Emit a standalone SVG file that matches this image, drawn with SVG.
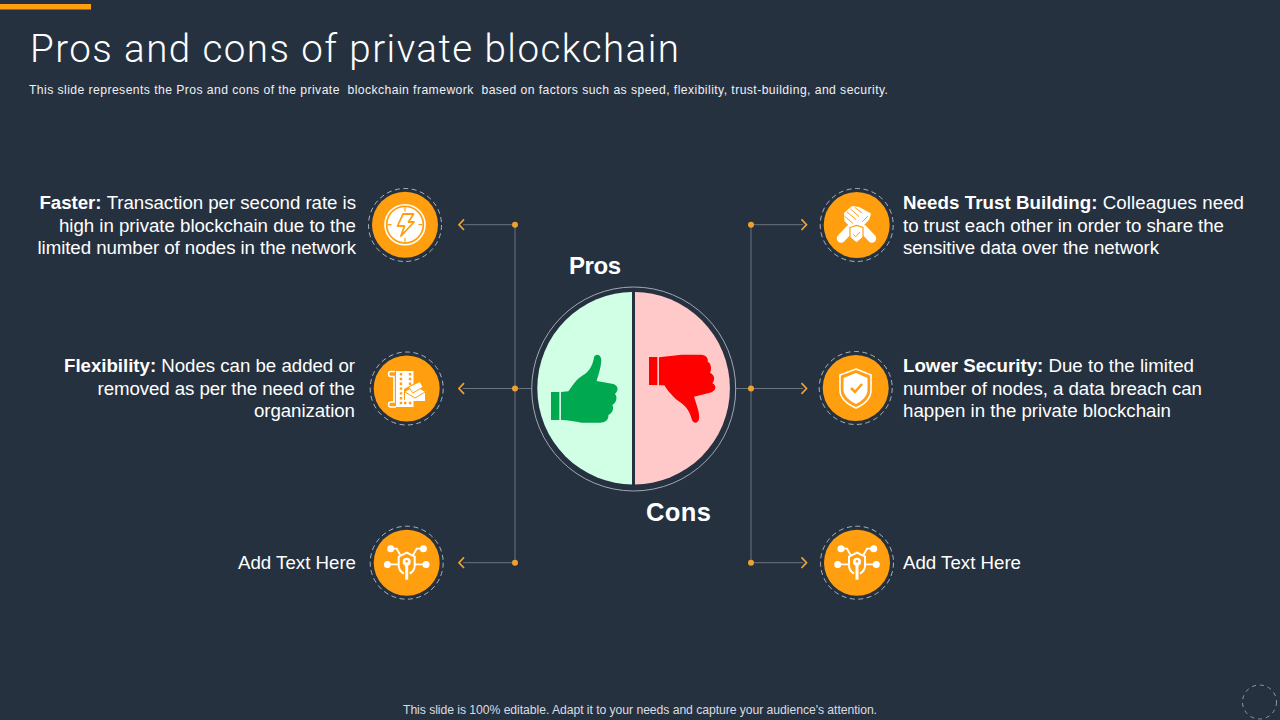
<svg xmlns="http://www.w3.org/2000/svg" width="1280" height="720" viewBox="0 0 1280 720">
<style>
text{font-family:"Liberation Sans",Arial,sans-serif;fill:#fff;white-space:pre}
.b{font-size:18.7px}
.s{font-weight:700}
.e{text-anchor:end}
.disc{fill:#ff9f10}
.dash{fill:none;stroke:#a9b4c2;stroke-width:1;stroke-dasharray:5 3.5}
.ln{fill:none;stroke:#737b85;stroke-width:.9}
.dot{fill:#f0a02e}
.chev{fill:none;stroke:#f0a02e;stroke-width:1.7}
.ic{fill:#fff}
.icl{fill:none;stroke:#fff;stroke-width:1.6}
.ico{fill:#ff9f10}
.oln{fill:none;stroke:#ff9f10;stroke-width:1}
</style>
<defs>
<clipPath id="lh"><rect x="500" y="280" width="132" height="220"/></clipPath>
<clipPath id="rh"><rect x="635" y="280" width="132" height="220"/></clipPath>
<g id="keyicon">
<circle class="ic" cx="-16" cy="-14" r="3.500"/><circle class="ic" cx="16.700" cy="-14" r="3.500"/><circle class="ic" cx="-19.300" cy="1.700" r="3.500"/><circle class="ic" cx="19.300" cy="1.700" r="3.500"/>
<path class="icl" style="stroke-width:1.800" d="M-16-14H-10L-6-7M16.700-14H10L6-7M-19.300 1.700H-8M19.300 1.700H8"/>
<path class="icl" style="stroke-width:2" d="M-3 11C-6 9-8 6-8 3V-6L0-10 8-6V3C8 6 6 9 3 11"/>
<circle class="ic" cx="0" cy="-1" r="4"/><rect class="ic" x="-1.500" y="0" width="3" height="17"/>
<circle class="ico" cx="0" cy="-1.500" r="1.200"/>
</g>
</defs>
<rect width="1280" height="720" fill="#263140"/>
<rect x="0" y="4" width="91" height="5.500" fill="#ff9f10"/>
<text x="30" y="62" font-size="38.500" style="font-family:Roboto,sans-serif;font-weight:300" textLength="649">Pros and cons of private blockchain</text>
<text x="29" y="93.500" font-size="12.200" style="fill:#eef0f2" textLength="859">This slide represents the Pros and cons of the private  blockchain framework  based on factors such as speed, flexibility, trust-building, and security.</text>

<g id="connectors">
<path class="ln" d="M515 225V563M751 225V563M463 224.700H515M463 388.500H532M463 562.700H515M736 388.500H803M751 224.700H803M751 562.700H803"/>
<circle class="dot" cx="515" cy="224.700" r="3"/><circle class="dot" cx="515" cy="388.500" r="3"/><circle class="dot" cx="515" cy="562.700" r="3"/>
<circle class="dot" cx="751" cy="224.700" r="3"/><circle class="dot" cx="751" cy="388.500" r="3"/><circle class="dot" cx="751" cy="562.700" r="3"/>
<path class="chev" d="M464 219.400 459 224.700 464 230M464 383.200 459 388.500 464 393.800M464 557.400 459 562.700 464 568M801.500 219.400 806.500 224.700 801.500 230M801.500 383.200 806.500 388.500 801.500 393.800M801.500 557.400 806.500 562.700 801.500 568"/>
</g>

<g id="center">
<circle cx="633.700" cy="389" r="102" fill="none" stroke="#a0a8b2" stroke-width="1"/>
<circle cx="633.600" cy="388.300" r="96.300" fill="#d0ffe6" clip-path="url(#lh)"/>
<circle cx="633.600" cy="388.300" r="96.300" fill="#ffc9c9" clip-path="url(#rh)"/>
<g transform="translate(525 280) scale(.33333)">
<rect x="78" y="336" width="25" height="84" fill="#00a94f"/>
<path fill="#00a94f" d="M108 336 130 334C145 315 150 300 175 285C195 275 205 250 207 232C210 220 228 222 229 240C228 265 218 290 215 303L265 312C280 318 282 330 270 342C278 350 275 368 262 375C268 385 262 400 250 405C252 420 240 428 225 428L170 428C150 425 130 420 108 420Z"/>
<rect x="372" y="231" width="25" height="84" fill="#ff0000"/>
<path fill="#ff0000" d="M402 232 470 224 530 224C548 226 550 240 548 245C560 250 560 270 555 278C570 285 570 300 562 310C578 318 572 335 555 338L507 350C515 375 525 400 522 418C518 432 505 430 501 420C497 405 490 385 470 370C450 358 430 335 418 316L402 316Z"/>
</g>
<text x="569" y="273.500" font-size="24" class="s" textLength="52">Pros</text>
<text x="646" y="521" font-size="25.500" class="s" textLength="65">Cons</text>
</g>

<g id="node-faster">
<circle class="disc" cx="405" cy="224.700" r="33"/><circle class="dash" cx="405" cy="225" r="36.500"/>
<circle class="icl" cx="405" cy="224.700" r="20"/><circle class="ic" cx="405" cy="224.700" r="17.500"/>
<path class="oln" style="stroke-width:1.200" d="M405 207.200V211.500M405 238V242.200M387.500 224.700H391.500M418.500 224.700H422.500"/>
<path class="oln" style="stroke-width:1.800;stroke-linejoin:round" d="M403 214H413.500L408.500 222H414L401 236 404.500 226H397.500Z"/>
<text class="b e" x="356" y="209" textLength="316.500"><tspan class="s">Faster: </tspan>Transaction per second rate is</text>
<text class="b e" x="356" y="232" textLength="297">high in private blockchain due to the</text>
<text class="b e" x="356" y="254" textLength="318.500">limited number of nodes in the network</text>
</g>

<g id="node-flexibility">
<circle class="disc" cx="406.700" cy="388.500" r="33"/><circle class="dash" cx="406.700" cy="388.500" r="36.500"/>
<path class="icl" d="M395 371.500H390.500C388 371.500 388 376.500 390.500 376.500H394V402H390.500C388 402 388 407 390.500 407H396"/>
<rect class="ic" x="396" y="371" width="17.500" height="36"/>
<path d="M401 373V405M410 373V385M404 403H413" fill="none" stroke="#ff9f10" stroke-width="2.400" stroke-dasharray="2.400 2.400"/>
<path d="M404 389 417 382 425 388V400H404Z" fill="#ff9f10"/>
<path class="ic" d="M405 392 415 386 425 392V401H405Z"/>
<path class="ic" d="M408.500 387 420 381.500 423 387 413 393Z"/>
<path class="oln" d="M405 392 415 398 425 392M408.500 387 420 381.500 423 387 413 393Z"/>
<text class="b e" x="355" y="372" textLength="291"><tspan class="s">Flexibility: </tspan>Nodes can be added or</text>
<text class="b e" x="355" y="395" textLength="257.500">removed as per the need of the</text>
<text class="b e" x="355" y="417" textLength="101">organization</text>
</g>

<g id="node-add-left">
<circle class="disc" cx="406.700" cy="562.700" r="33"/><circle class="dash" cx="406.700" cy="562.700" r="36.500"/>
<use href="#keyicon" x="406.700" y="562.700"/>
<text class="b e" x="356" y="569" textLength="118">Add Text Here</text>
</g>

<g id="node-trust">
<circle class="disc" cx="856.700" cy="225" r="33"/><circle class="dash" cx="856.700" cy="225" r="36.500"/>
<path d="M841 238.500 850 229M872 238.500 863 229" stroke="#fff" stroke-width="8.500" stroke-linecap="round" fill="none"/>
<path class="ic" d="M844 213 852 206 859 207 871 213.500 869 220 860 229 851 228 844.500 221Z"/>
<path class="oln" d="M844.500 216 853 223.500M847 212 856 219.500M850.500 209 859 216.500M855 207.500 862 213M862 222 868 216"/>
<path class="ic" stroke="#ff9f10" stroke-width="1.200" d="M850 227.500 856.500 225.500 863 227.500V237.500L856.500 243 850 237.500Z"/>
<path class="oln" d="M853.500 234.500 855.700 236.700 860 232"/>
<text class="b" x="903" y="209" textLength="341"><tspan class="s">Needs Trust Building: </tspan>Colleagues need</text>
<text class="b" x="903" y="232" textLength="321">to trust each other in order to share the</text>
<text class="b" x="903" y="254" textLength="256">sensitive data over the network</text>
</g>

<g id="node-security">
<circle class="disc" cx="855.700" cy="388" r="33"/><circle class="dash" cx="855.700" cy="388" r="36.500"/>
<path class="icl" d="M856 369 871 375V390C871 398 865 404 856 408C847 404 840 398 840 390V375Z"/>
<path class="ic" d="M856 373 867.500 378V390C867.500 396 862 401 856 404C850 401 843.500 396 843.500 390V378Z"/>
<path d="M851 388 855 392 862 384" fill="none" stroke="#ff9f10" stroke-width="2.500"/>
<text class="b" x="903" y="372" textLength="291"><tspan class="s">Lower Security: </tspan>Due to the limited</text>
<text class="b" x="903" y="395" textLength="299">number of nodes, a data breach can</text>
<text class="b" x="903" y="417" textLength="268">happen in the private blockchain</text>
</g>

<g id="node-add-right">
<circle class="disc" cx="857" cy="562.700" r="33"/><circle class="dash" cx="857" cy="562.700" r="36.500"/>
<use href="#keyicon" x="857" y="562.700"/>
<text class="b" x="903" y="569" textLength="118">Add Text Here</text>
</g>

<text x="403" y="714" font-size="12.200" textLength="474" style="fill:#d9dce0">This slide is 100% editable. Adapt it to your needs and capture your audience's attention.</text>
<circle cx="1259.500" cy="702" r="17" fill="none" stroke="#8d97a5" stroke-width="1" stroke-dasharray="4 4"/>
</svg>
